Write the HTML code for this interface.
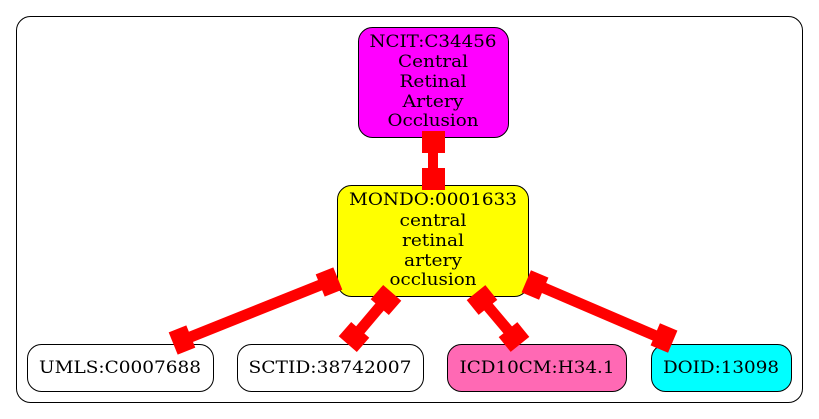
<!DOCTYPE html>
<html><head><meta charset="utf-8"><style>
html,body{margin:0;padding:0;background:#fff;}
svg{display:block;}
text{font-family:"DejaVu Serif","Liberation Serif",serif;font-size:17px;text-anchor:middle;fill:#000;}
</style></head><body>
<svg width="819" height="419" viewBox="0 0 819 419">
<rect x="16.5" y="16.5" width="786" height="386" rx="14" fill="#fff" stroke="#000" stroke-width="1"/>
<rect x="358.5" y="27.5" width="150" height="110" rx="14" fill="#ff00ff" stroke="#000"/>
<text x="433" y="47" textLength="127" lengthAdjust="spacingAndGlyphs">NCIT:C34456</text>
<text x="433" y="67" textLength="70" lengthAdjust="spacingAndGlyphs">Central</text>
<text x="433" y="87" textLength="67" lengthAdjust="spacingAndGlyphs">Retinal</text>
<text x="433" y="107" textLength="61" lengthAdjust="spacingAndGlyphs">Artery</text>
<text x="433" y="126" textLength="91" lengthAdjust="spacingAndGlyphs">Occlusion</text>
<rect x="337.5" y="185.5" width="191" height="111" rx="14" fill="#ffff00" stroke="#000"/>
<text x="433" y="205" textLength="168" lengthAdjust="spacingAndGlyphs">MONDO:0001633</text>
<text x="433" y="226" textLength="67" lengthAdjust="spacingAndGlyphs">central</text>
<text x="433" y="246" textLength="62" lengthAdjust="spacingAndGlyphs">retinal</text>
<text x="433" y="266" textLength="58" lengthAdjust="spacingAndGlyphs">artery</text>
<text x="433" y="285" textLength="87" lengthAdjust="spacingAndGlyphs">occlusion</text>
<rect x="27.5" y="344.5" width="186" height="47" rx="14" fill="#fff" stroke="#000"/>
<text x="120" y="373" textLength="162" lengthAdjust="spacingAndGlyphs">UMLS:C0007688</text>
<rect x="237.5" y="344.5" width="186" height="47" rx="14" fill="#fff" stroke="#000"/>
<text x="330" y="373" textLength="163" lengthAdjust="spacingAndGlyphs">SCTID:38742007</text>
<rect x="447.5" y="344.5" width="179" height="47" rx="14" fill="#ff69b4" stroke="#000"/>
<text x="537" y="373" textLength="155" lengthAdjust="spacingAndGlyphs">ICD10CM:H34.1</text>
<rect x="651.5" y="344.5" width="140" height="47" rx="14" fill="#00ffff" stroke="#000"/>
<text x="721" y="373" textLength="116" lengthAdjust="spacingAndGlyphs">DOID:13098</text>
<g fill="#f00" stroke="none">
<rect x="428" y="137" width="10" height="48"/>
<rect x="422" y="131" width="23" height="22"/>
<rect x="422" y="168" width="23" height="22"/>
<line x1="333" y1="280" x2="178" y2="342" stroke="#f00" stroke-width="11"/>
<rect x="-9.5" y="-12" width="19" height="24" transform="translate(329,282) rotate(158)"/>
<rect x="-9.5" y="-12" width="19" height="24" transform="translate(182,340) rotate(158)"/>
<line x1="388" y1="297" x2="350" y2="342" stroke="#f00" stroke-width="11"/>
<rect x="-9.5" y="-12" width="19" height="24" transform="translate(386,300) rotate(131)"/>
<rect x="-9.5" y="-12" width="19" height="24" transform="translate(354,337) rotate(131)"/>
<line x1="480" y1="297" x2="518" y2="342" stroke="#f00" stroke-width="11"/>
<rect x="-9.5" y="-12" width="19" height="24" transform="translate(482,300) rotate(51)"/>
<rect x="-9.5" y="-12" width="19" height="24" transform="translate(514,337) rotate(51)"/>
<line x1="530" y1="282" x2="670" y2="342" stroke="#f00" stroke-width="11"/>
<rect x="-9.5" y="-12" width="19" height="24" transform="translate(535,285) rotate(23)"/>
<rect x="-9.5" y="-12" width="19" height="24" transform="translate(664,338) rotate(23)"/>
</g>
</svg>
</body></html>
